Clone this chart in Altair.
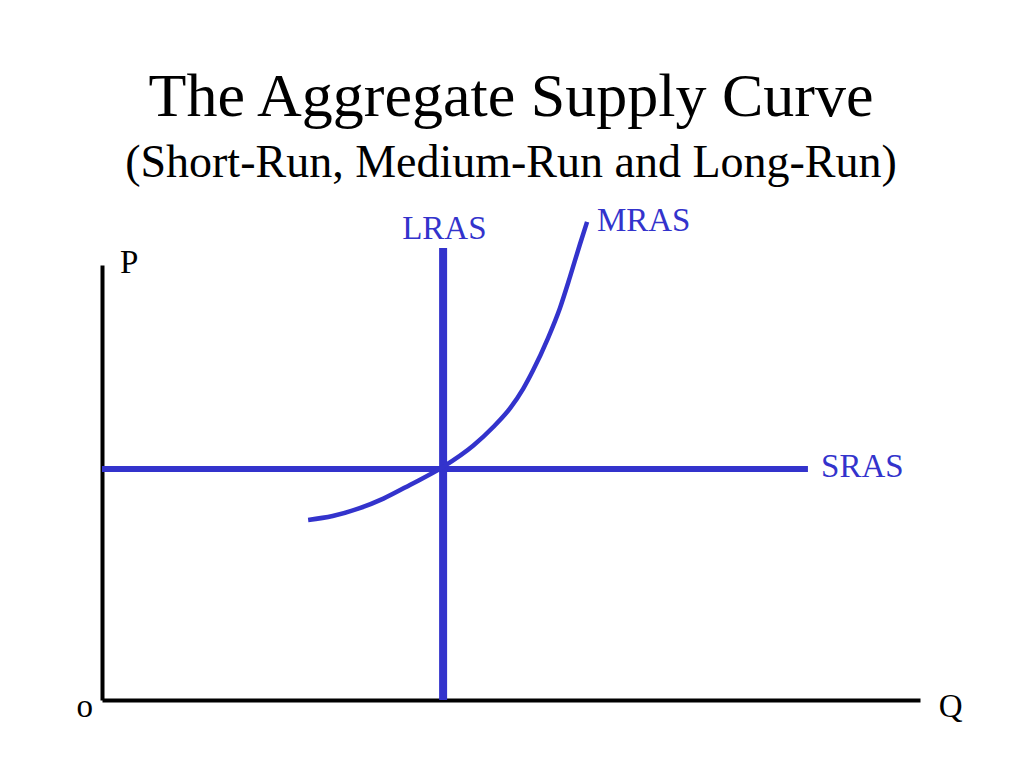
import altair as alt
import pandas as pd

BLUE = "#3333CC"
FONT = "Liberation Serif"

# Curve values (Q, P in arbitrary units; axes run 0..100)
mras_q = [25.2, 28.2, 31.5, 34.4, 37.7, 41.7, 45.4, 47.8, 49.9, 51.5, 52.7, 54.5, 56.0, 57.2, 58.4, 59.3]
mras_p = [41.4, 42.3, 44.1, 46.3, 49.5, 53.6, 58.5, 62.7, 67.1, 71.6, 75.8, 83.1, 90.2, 97.2, 104.6, 109.9]

lras_q = 41.7
lras_p_top = 103.9
sras_p = 53.1
sras_q_end = 86.3

label_text = ["LRAS", "MRAS", "SRAS"]
label_q = [36.7, 60.5, 87.9]
label_p = [106.0, 107.8, 51.3]

axis_text = ["P", "o", "Q"]
axis_q = [2.2, -2.1, 102.3]
axis_p = [98.2, -3.9, -3.9]
axis_align = ["left", "center", "left"]

xs = alt.Scale(domain=[0, 100], nice=False, zero=False)
ys = alt.Scale(domain=[0, 100], nice=False, zero=False)

ax_x = alt.Axis(grid=False, ticks=False, labels=False, title=None,
                domainColor="black", domainWidth=4)
ax_y = alt.Axis(grid=False, ticks=False, labels=False, title=None,
                domainColor="black", domainWidth=4)

mras_df = pd.DataFrame({"Q": mras_q, "P": mras_p, "i": range(len(mras_q))})
lras_df = pd.DataFrame({"Q": [lras_q], "P0": [0], "P1": [lras_p_top]})
sras_df = pd.DataFrame({"Q0": [0], "Q1": [sras_q_end], "P": [sras_p]})
lab_df = pd.DataFrame({"t": label_text, "Q": label_q, "P": label_p})
axl_df = pd.DataFrame({"t": axis_text, "Q": axis_q, "P": axis_p, "a": axis_align})

base_axes = alt.Chart(sras_df).mark_point(opacity=0).encode(
    x=alt.X("Q0:Q", scale=xs, axis=ax_x),
    y=alt.Y("P:Q", scale=ys, axis=ax_y),
)

sras = alt.Chart(sras_df).mark_rule(color=BLUE, strokeWidth=6, strokeCap="butt").encode(
    x=alt.X("Q0:Q", scale=xs), x2="Q1:Q", y=alt.Y("P:Q", scale=ys)
)

lras = alt.Chart(lras_df).mark_rule(color=BLUE, strokeWidth=8, strokeCap="butt").encode(
    x=alt.X("Q:Q", scale=xs), y=alt.Y("P0:Q", scale=ys), y2="P1:Q"
)

mras = alt.Chart(mras_df).mark_line(color=BLUE, strokeWidth=4.5, interpolate="monotone").encode(
    x=alt.X("Q:Q", scale=xs), y=alt.Y("P:Q", scale=ys), order="i:O"
)

labels = alt.Chart(lab_df).mark_text(
    color=BLUE, font=FONT, fontSize=33, align="left", baseline="alphabetic"
).encode(x=alt.X("Q:Q", scale=xs), y=alt.Y("P:Q", scale=ys), text="t:N")

axis_labels_l = alt.Chart(axl_df[axl_df.a == "left"]).mark_text(
    color="black", font=FONT, fontSize=33, align="left", baseline="alphabetic"
).encode(x=alt.X("Q:Q", scale=xs), y=alt.Y("P:Q", scale=ys), text="t:N")

axis_labels_c = alt.Chart(axl_df[axl_df.a == "center"]).mark_text(
    color="black", font=FONT, fontSize=33, align="center", baseline="alphabetic"
).encode(x=alt.X("Q:Q", scale=xs), y=alt.Y("P:Q", scale=ys), text="t:N")

chart = alt.layer(
    base_axes, sras, lras, mras, labels, axis_labels_l, axis_labels_c
).properties(
    width=818,
    height=435,
    padding={"left": 94, "top": 257, "right": 96, "bottom": 60},
    autosize="none",
    view=alt.ViewBackground(stroke="transparent"),
    title=alt.TitleParams(
        text="The Aggregate Supply Curve",
        subtitle="(Short-Run, Medium-Run and Long-Run)",
        font=FONT, fontSize=62, fontWeight="normal", color="black",
        subtitleFont=FONT, subtitleFontSize=46, subtitleColor="black",
        subtitlePadding=12, anchor="middle", offset=18,
    ),
).configure_view(stroke="transparent").configure(background="white")

chart.save("out.html", embed_options={"renderer": "svg", "actions": False})
